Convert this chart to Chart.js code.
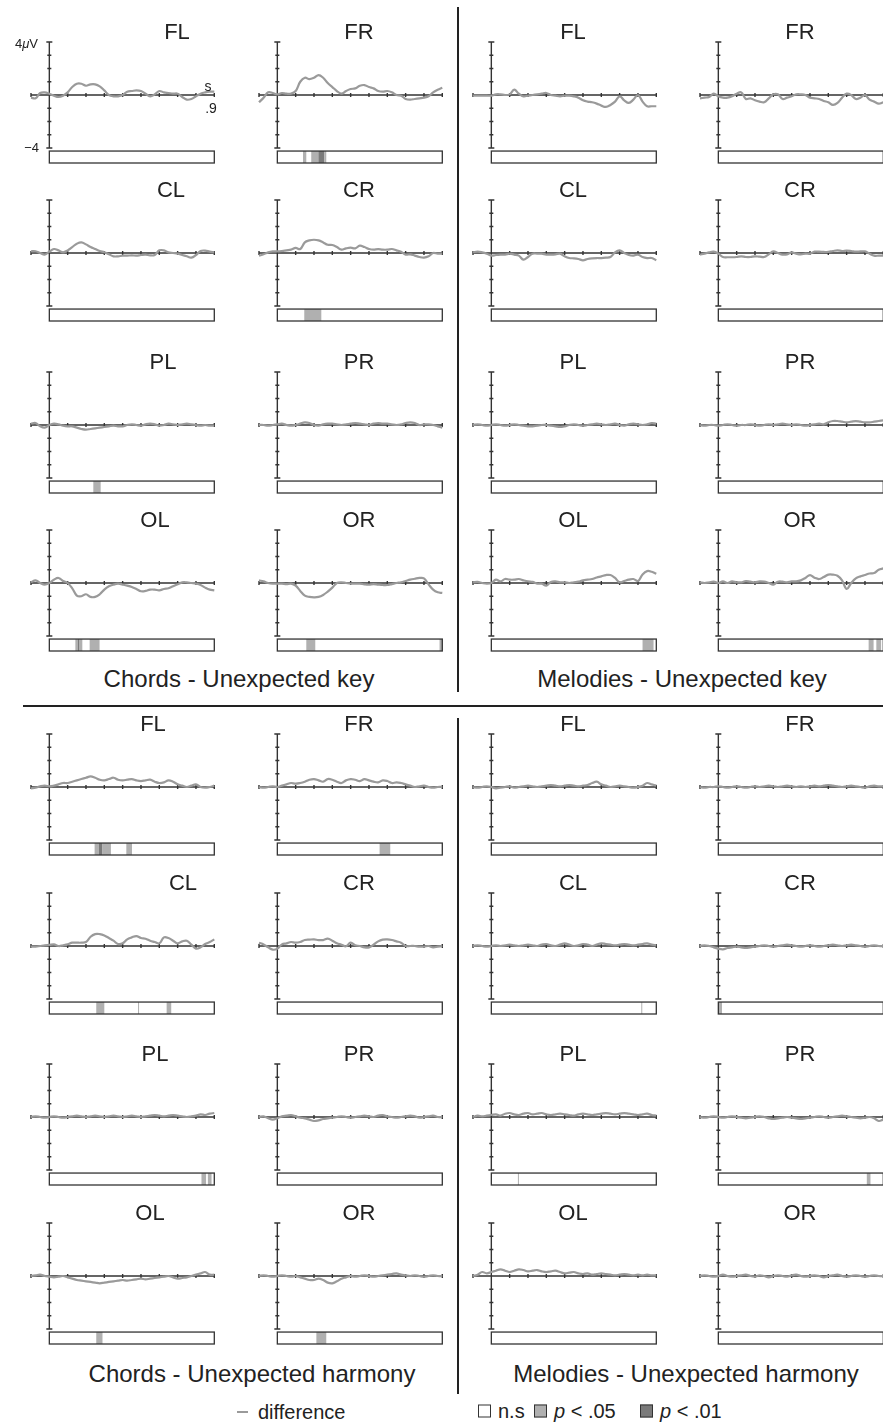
<!DOCTYPE html>
<html>
<head>
<meta charset="utf-8">
<script src="https://cdn.jsdelivr.net/npm/chart.js@4.4.0/dist/chart.umd.min.js"></script>
<style>
html, body { margin: 0; padding: 0; background: #fff; }
body { width: 883px; height: 1427px; position: relative; overflow: hidden;
       font-family: "Liberation Sans", Arial, sans-serif; color: #222; }
canvas { position: absolute; }
.t { position: absolute; transform: translate(-50%, -50%); white-space: nowrap; line-height: 1; font-size: 22px; }
.l { position: absolute; transform: translateY(-50%); white-space: nowrap; line-height: 1; }
.sep { position: absolute; background: #222; }
.box { position: absolute; width: 11px; height: 11px; border: 1px solid #333; transform: translateY(-50%); }
</style>
</head>
<body>
<script>
// ---- data ----
const TIMES = [-0.1, -0.075, -0.05, -0.025, 0, 0.025, 0.05, 0.075, 0.1, 0.125, 0.15, 0.175, 0.2, 0.225,
  0.25, 0.275, 0.3, 0.325, 0.35, 0.375, 0.4, 0.425, 0.45, 0.475, 0.5, 0.525, 0.55, 0.575, 0.6, 0.625,
  0.65, 0.675, 0.7, 0.725, 0.75, 0.775, 0.8, 0.825, 0.85, 0.875, 0.9];
const X_TICKS = [-0.1, 0, 0.1, 0.2, 0.3, 0.4, 0.5, 0.6, 0.7, 0.8, 0.9];
const Y_TICKS = [-4, -3, -2, -1, 0, 1, 2, 3, 4];
const ELECTRODES = ['FL', 'FR', 'CL', 'CR', 'PL', 'PR', 'OL', 'OR'];
const CONDITIONS = ['Chords - Unexpected key', 'Melodies - Unexpected key',
  'Chords - Unexpected harmony', 'Melodies - Unexpected harmony'];

// Chords - unexpected key
const CK_FL = [-0.2,-0.25,0.15,0.2,0.1,-0.05,-0.15,-0.05,0.2,0.6,0.85,0.85,0.7,0.8,0.8,0.65,0.35,0.0,-0.1,-0.1,0.0,0.25,0.3,0.35,0.3,0.1,-0.1,0.05,0.3,0.2,0.15,0.1,0.1,-0.15,-0.35,-0.3,-0.1,0.1,0.2,0.25,0.25];
const CK_FR = [-0.55,-0.2,0.2,0.15,0.05,0.15,0.1,0.1,0.3,1.0,1.3,1.2,1.3,1.5,1.3,0.9,0.6,0.3,0.1,0.3,0.45,0.5,0.7,0.75,0.6,0.5,0.3,0.25,0.3,0.2,0.0,-0.05,-0.3,-0.35,-0.3,-0.25,-0.2,-0.1,0.2,0.4,0.55];
const CK_CL = [0.13,0.13,0.0,-0.12,0.1,0.3,0.2,0.05,0.2,0.45,0.7,0.8,0.65,0.45,0.3,0.15,0.05,-0.1,-0.25,-0.25,-0.2,-0.2,-0.18,-0.2,-0.15,-0.12,-0.18,-0.15,0.2,0.2,0.05,0.0,-0.05,-0.15,-0.25,-0.35,-0.15,0.15,0.18,0.1,0.05];
const CK_CR = [-0.2,-0.1,0.05,0.12,0.12,0.15,0.2,0.25,0.38,0.3,0.8,0.95,1.0,0.95,0.8,0.62,0.6,0.45,0.25,0.35,0.4,0.35,0.55,0.45,0.3,0.25,0.3,0.25,0.25,0.3,0.2,0.1,-0.12,-0.1,-0.2,-0.3,-0.35,-0.25,0.0,-0.05,-0.05];
const CK_PL = [0.1,0.15,-0.1,-0.2,0.0,0.1,0.05,-0.05,-0.1,-0.1,-0.2,-0.3,-0.35,-0.3,-0.25,-0.2,-0.15,-0.1,-0.05,-0.1,-0.1,0.0,0.05,0.0,-0.05,0.05,0.1,0.05,-0.05,0.0,0.1,0.05,0.0,0.05,0.1,0.05,0.0,-0.05,0.0,-0.05,-0.05];
const CK_PR = [0.0,0.0,-0.05,0.0,0.05,0.1,0.0,-0.05,0.0,0.1,0.2,0.15,0.0,-0.05,0.05,0.1,0.1,0.05,0.0,0.05,0.1,0.15,0.1,0.05,0.0,0.1,0.15,0.1,0.1,0.05,0.0,0.05,0.15,0.2,0.15,0.0,0.05,0.05,0.0,-0.1,-0.2];
const CK_OL = [0.05,0.2,0.0,-0.12,0.0,0.25,0.38,0.15,0.0,-0.4,-0.95,-1.0,-0.85,-1.05,-1.05,-0.85,-0.5,-0.25,-0.12,-0.05,-0.12,-0.2,-0.3,-0.45,-0.62,-0.6,-0.5,-0.5,-0.55,-0.45,-0.4,-0.25,-0.1,0.05,0.05,0.0,-0.05,-0.15,-0.35,-0.5,-0.55];
const CK_OR = [0.2,0.12,0.0,-0.05,-0.05,-0.05,-0.08,-0.05,-0.2,-0.6,-0.95,-1.05,-1.08,-1.05,-0.9,-0.65,-0.35,0.0,0.05,0.0,-0.05,-0.05,-0.05,-0.1,-0.12,-0.08,-0.12,-0.15,-0.15,-0.08,0.0,0.05,0.15,0.25,0.32,0.38,0.35,-0.1,-0.5,-0.7,-0.75];
// Melodies - unexpected key
const MK_FL = [-0.05,-0.05,-0.05,-0.05,-0.05,0.05,0.05,0.0,0.05,0.4,0.1,-0.1,-0.05,0.0,0.05,0.1,0.15,0.0,-0.05,-0.1,-0.05,-0.05,-0.1,-0.2,-0.4,-0.5,-0.55,-0.65,-0.8,-0.9,-0.75,-0.5,-0.1,-0.4,-0.6,-0.35,0.0,-0.5,-0.85,-0.85,-0.85];
const MK_FR = [-0.25,-0.2,-0.15,0.1,-0.1,-0.2,-0.2,-0.1,0.1,0.2,-0.3,-0.25,-0.4,-0.5,-0.55,-0.25,0.05,0.05,-0.3,-0.2,-0.1,0.05,0.05,0.0,-0.2,-0.25,-0.3,-0.45,-0.55,-0.75,-0.6,-0.2,0.1,0.0,-0.3,-0.2,0.0,-0.35,-0.5,-0.65,-0.55];
const MK_CL = [0.05,0.1,0.05,-0.05,-0.2,-0.15,-0.12,-0.12,-0.05,-0.12,-0.2,-0.5,-0.3,-0.05,-0.05,-0.05,-0.12,-0.12,-0.1,-0.05,-0.25,-0.38,-0.4,-0.45,-0.55,-0.45,-0.4,-0.38,-0.38,-0.35,-0.3,0.05,0.2,0.0,-0.15,-0.2,-0.12,-0.3,-0.38,-0.38,-0.55];
const MK_CR = [-0.12,-0.05,0.05,0.1,-0.05,-0.3,-0.32,-0.32,-0.3,-0.25,-0.3,-0.3,-0.25,-0.28,-0.3,-0.1,0.12,0.0,-0.12,-0.1,0.05,-0.05,-0.1,-0.05,-0.05,0.1,0.1,0.08,0.08,0.15,0.2,0.15,0.18,0.15,0.1,0.12,0.12,-0.05,-0.2,-0.2,-0.2];
const MK_PL = [0.0,0.05,0.0,-0.05,0.0,0.05,0.0,-0.05,0.0,0.05,0.0,-0.05,-0.1,-0.1,-0.05,0.0,0.0,-0.05,-0.1,-0.15,-0.1,0.0,0.05,0.0,-0.05,0.0,0.05,0.1,0.05,0.0,0.05,0.1,0.0,-0.05,0.05,0.1,0.05,0.0,0.05,0.15,0.1];
const MK_PR = [0.0,-0.05,0.0,0.0,-0.05,0.0,0.05,0.0,-0.05,0.0,0.0,0.05,0.0,-0.05,0.0,0.05,0.0,0.05,0.1,0.05,0.0,0.05,0.0,-0.05,0.0,0.05,0.1,0.05,0.2,0.3,0.3,0.25,0.2,0.25,0.3,0.25,0.2,0.2,0.25,0.3,0.35];
const MK_OL = [0.05,0.08,0.0,-0.05,0.0,0.25,0.12,0.3,0.25,0.25,0.3,0.2,0.12,0.08,-0.05,-0.05,-0.2,0.08,0.12,0.05,0.05,0.0,0.05,0.1,0.2,0.25,0.3,0.42,0.5,0.6,0.6,0.38,0.05,0.15,0.25,0.3,0.15,0.65,0.9,0.85,0.7];
const MK_OR = [0.05,0.0,0.05,0.1,0.0,0.12,0.0,0.12,0.05,0.05,0.15,0.1,0.05,0.12,0.1,0.0,-0.12,0.1,0.1,0.05,0.12,0.12,0.2,0.38,0.6,0.4,0.3,0.45,0.63,0.63,0.55,0.2,-0.45,0.0,0.35,0.5,0.6,0.72,0.75,1.0,1.1];
// Chords - unexpected harmony
const CH_FL = [-0.1,-0.05,0.05,0.1,0.05,0.1,0.2,0.3,0.3,0.4,0.5,0.6,0.7,0.8,0.7,0.55,0.5,0.6,0.7,0.55,0.5,0.55,0.6,0.5,0.45,0.5,0.55,0.4,0.3,0.35,0.5,0.4,0.2,0.1,0.0,0.1,0.2,0.0,-0.05,0.0,0.1];
const CH_FR = [0.0,-0.05,0.0,0.05,0.0,0.1,0.2,0.3,0.25,0.3,0.4,0.55,0.6,0.5,0.4,0.6,0.55,0.4,0.3,0.5,0.6,0.55,0.45,0.6,0.5,0.4,0.35,0.5,0.45,0.3,0.35,0.3,0.2,0.1,0.0,0.05,0.1,0.0,-0.05,0.0,0.0];
const CH_CL = [-0.05,-0.05,0.0,0.05,0.08,0.12,0.0,0.05,0.12,0.25,0.25,0.25,0.3,0.7,0.9,0.9,0.8,0.6,0.4,0.15,0.2,0.5,0.65,0.75,0.6,0.55,0.4,0.3,0.2,0.65,0.6,0.4,0.2,0.35,0.4,0.1,-0.2,-0.1,0.15,0.3,0.5];
const CH_CR = [0.25,0.12,-0.1,-0.28,-0.2,0.12,0.2,0.3,0.25,0.3,0.45,0.48,0.5,0.45,0.45,0.55,0.4,0.2,0.1,-0.02,0.25,0.05,0.0,-0.1,-0.1,0.1,0.35,0.48,0.5,0.45,0.35,0.25,0.0,0.0,0.0,-0.05,-0.05,0.0,-0.1,-0.05,0.0];
const CH_PL = [0.0,0.05,0.0,-0.05,0.0,0.05,0.0,-0.05,0.0,0.05,0.1,0.05,0.0,0.05,0.1,0.05,0.0,0.05,0.1,0.05,0.0,0.05,0.1,0.05,0.0,0.05,0.1,0.15,0.1,0.05,0.1,0.15,0.1,0.05,0.0,0.05,0.1,0.2,0.15,0.25,0.3];
const CH_PR = [0.0,0.05,-0.1,-0.2,-0.1,0.05,0.1,0.15,0.05,-0.05,-0.1,-0.2,-0.3,-0.25,-0.15,-0.1,-0.05,0.0,0.05,0.0,-0.05,0.0,0.05,0.1,0.05,0.0,0.1,0.15,0.05,0.0,-0.05,0.0,0.05,0.1,0.05,-0.05,0.0,0.05,0.1,0.0,0.0];
const CH_OL = [0.0,0.05,0.1,0.0,-0.05,-0.1,-0.05,0.0,-0.1,-0.2,-0.3,-0.35,-0.4,-0.45,-0.5,-0.55,-0.5,-0.45,-0.4,-0.35,-0.3,-0.35,-0.3,-0.25,-0.2,-0.25,-0.2,-0.15,-0.1,-0.05,0.0,-0.1,-0.2,-0.15,-0.1,0.0,0.1,0.2,0.3,0.1,0.1];
const CH_OR = [0.0,0.05,0.0,-0.05,0.0,0.05,0.0,-0.05,0.0,-0.1,-0.2,-0.3,-0.3,-0.2,-0.3,-0.5,-0.55,-0.4,-0.2,-0.1,0.0,-0.05,0.0,0.05,0.0,-0.05,0.0,0.05,0.1,0.15,0.2,0.1,0.05,0.0,0.05,0.0,-0.05,0.0,0.05,0.0,0.0];
// Melodies - unexpected harmony
const MH_FL = [0.0,-0.05,0.0,0.05,0.0,-0.1,-0.05,0.0,0.05,-0.05,0.0,0.05,0.1,0.05,0.0,0.05,0.1,0.15,0.1,0.05,0.1,0.15,0.1,0.05,0.1,0.15,0.3,0.4,0.2,0.1,0.0,0.05,0.1,0.05,0.0,-0.05,0.0,0.1,0.3,0.2,0.1];
const MH_FR = [0.0,-0.05,0.0,0.0,0.05,0.0,-0.05,0.0,0.05,0.0,-0.05,0.0,0.05,0.0,0.05,0.1,0.05,0.0,0.05,0.1,0.05,0.0,0.05,0.0,0.05,0.1,0.05,0.1,0.15,0.1,0.05,0.0,0.05,0.1,0.05,0.0,-0.05,0.05,0.1,0.05,0.05];
const MH_CL = [0.0,0.05,0.0,-0.05,0.0,0.05,0.0,0.05,0.1,0.05,0.0,0.05,0.1,0.05,0.0,0.1,0.15,0.05,0.0,0.1,0.2,0.1,0.0,0.05,0.15,0.1,0.0,0.1,0.2,0.15,0.1,0.05,0.1,0.15,0.1,0.05,0.1,0.15,0.2,0.1,0.05];
const MH_CR = [0.0,0.05,0.0,-0.1,-0.2,-0.25,-0.15,-0.1,-0.05,-0.1,-0.15,-0.1,-0.05,0.0,0.05,0.0,-0.05,0.0,0.05,0.1,0.05,0.0,-0.05,0.0,0.05,0.0,-0.05,0.0,0.05,0.1,0.05,0.0,0.05,0.1,0.05,0.0,-0.05,0.0,0.05,0.0,0.0];
const MH_PL = [0.0,0.1,0.05,0.1,0.15,0.2,0.1,0.25,0.3,0.2,0.15,0.25,0.3,0.2,0.25,0.3,0.2,0.15,0.2,0.25,0.2,0.15,0.1,0.2,0.25,0.2,0.15,0.2,0.25,0.3,0.25,0.2,0.25,0.3,0.25,0.2,0.15,0.2,0.25,0.15,0.1];
const MH_PR = [0.0,-0.05,0.0,0.05,0.0,-0.05,0.0,0.05,0.0,-0.05,-0.1,-0.05,0.0,0.05,0.0,-0.1,-0.15,-0.1,-0.05,0.0,-0.05,-0.1,-0.15,-0.1,-0.05,0.0,0.05,0.0,-0.05,0.0,0.05,0.1,0.05,0.0,-0.05,-0.1,-0.05,0.0,-0.1,-0.3,-0.2];
const MH_OL = [0.0,0.1,0.3,0.2,0.3,0.4,0.5,0.4,0.3,0.4,0.5,0.45,0.35,0.4,0.45,0.35,0.3,0.35,0.4,0.3,0.2,0.25,0.3,0.2,0.15,0.2,0.1,0.15,0.2,0.15,0.1,0.05,0.1,0.15,0.1,0.05,0.1,0.05,0.1,0.05,0.05];
const MH_OR = [0.0,0.05,0.0,-0.05,0.0,0.1,0.0,-0.05,0.0,0.05,0.1,0.0,-0.05,0.05,0.0,-0.1,0.0,0.05,0.0,-0.05,0.05,0.1,0.0,-0.05,0.0,0.05,0.0,-0.1,0.0,0.05,0.1,0.0,-0.05,0.0,0.05,0.0,-0.05,0.0,0.05,0.0,0.0];

// significant windows: [start s, end s, level] level 1 = p < .05, 2 = p < .01
const SIG = {
  CK_FR: [[0.14, 0.158, 1], [0.185, 0.224, 1], [0.224, 0.256, 2], [0.256, 0.267, 1]],
  CK_CR: [[0.147, 0.24, 1]],
  CK_PL: [[0.24, 0.28, 1]],
  CK_OL: [[0.142, 0.155, 1], [0.155, 0.165, 2], [0.165, 0.18, 1], [0.22, 0.274, 1]],
  CK_OR: [[0.158, 0.207, 1], [0.885, 0.9, 1]],
  MK_OL: [[0.825, 0.885, 1]],
  MK_OR: [[0.82, 0.847, 1], [0.862, 0.888, 1]],
  CH_FL: [[0.247, 0.27, 1], [0.27, 0.29, 2], [0.29, 0.336, 1], [0.42, 0.451, 1]],
  CH_FR: [[0.558, 0.616, 1]],
  CH_CL: [[0.256, 0.3, 1], [0.484, 0.489, 1], [0.64, 0.665, 1]],
  CH_PL: [[0.83, 0.855, 1], [0.865, 0.885, 1]],
  CH_OL: [[0.256, 0.29, 1]],
  CH_OR: [[0.213, 0.267, 1]],
  MH_CL: [[0.818, 0.823, 1]],
  MH_CR: [[0.0, 0.02, 1]],
  MH_PL: [[0.145, 0.15, 1]],
  MH_PR: [[0.81, 0.83, 1]]
};

const SERIES = {
  CK_FL, CK_FR, CK_CL, CK_CR, CK_PL, CK_PR, CK_OL, CK_OR,
  MK_FL, MK_FR, MK_CL, MK_CR, MK_PL, MK_PR, MK_OL, MK_OR,
  CH_FL, CH_FR, CH_CL, CH_CR, CH_PL, CH_PR, CH_OL, CH_OR,
  MH_FL, MH_FR, MH_CL, MH_CR, MH_PL, MH_PR, MH_OL, MH_OR
};
const PREFIX = ['CK', 'MK', 'CH', 'MH'];

// ---- layout / style ----
const COL_AXIS = [49, 277, 491, 718];           // pixel x of t = 0
const ROW_TOP = [42, 200, 372, 530, 734, 893, 1064, 1223]; // pixel y of +4 uV
const COL1_TITLE_X = [177, 171, 163, 155, 153, 183, 155, 150];
const PX_PER_S = 183.3, PX_PER_UV = 13.25, PLOT_H = 121;
const BAR_TOP = -4.23;
const TRACE = '#9a9a9a', AXIS = '#333', LIGHT = '#b0b0b0', DARK = '#7a7a7a';

function addText(html, x, y, cls, extra) {
  const d = document.createElement('div');
  d.className = cls; d.innerHTML = html;
  d.style.left = x + 'px'; d.style.top = y + 'px';
  if (extra) Object.assign(d.style, extra);
  document.body.appendChild(d);
  return d;
}
function addRect(x, y, w, h) {
  const d = document.createElement('div');
  d.className = 'sep';
  Object.assign(d.style, { left: x + 'px', top: y + 'px', width: w + 'px', height: h + 'px' });
  document.body.appendChild(d);
}

function framePlugin(sig) {
  return {
    id: 'erpFrame',
    beforeDatasetsDraw(chart) {
      const { ctx, scales: { x, y } } = chart;
      const x0 = x.getPixelForValue(0), y0 = y.getPixelForValue(0);
      ctx.save();
      ctx.strokeStyle = AXIS; ctx.lineWidth = 1.4; ctx.lineCap = 'butt';
      ctx.beginPath();
      ctx.moveTo(x0, y.getPixelForValue(Y_TICKS[Y_TICKS.length - 1]));
      ctx.lineTo(x0, y.getPixelForValue(Y_TICKS[0]));
      ctx.moveTo(x.getPixelForValue(X_TICKS[0]), y0);
      ctx.lineTo(x.getPixelForValue(X_TICKS[X_TICKS.length - 1]), y0);
      Y_TICKS.forEach(v => {
        const py = y.getPixelForValue(v), l = Math.abs(v) === 4 ? 3 : 2;
        ctx.moveTo(x0 - l, py); ctx.lineTo(x0 + l, py);
      });
      X_TICKS.forEach(v => {
        if (v === 0) return;
        const px = x.getPixelForValue(v);
        ctx.moveTo(px, y0 - 2); ctx.lineTo(px, y0 + 2);
      });
      ctx.stroke();
      // significance strip under the trace
      const bx0 = x.getPixelForValue(0), bx1 = x.getPixelForValue(X_TICKS[X_TICKS.length - 1]);
      const by0 = y.getPixelForValue(BAR_TOP), by1 = y.getPixelForValue(y.min);
      (sig || []).forEach(([a, b, lvl]) => {
        const pa = x.getPixelForValue(a), pb = x.getPixelForValue(b);
        ctx.fillStyle = lvl === 2 ? DARK : LIGHT;
        ctx.fillRect(pa, by0, Math.max(pb - pa, 1), by1 - by0);
      });
      ctx.lineWidth = 1.3;
      ctx.strokeRect(bx0, by0, bx1 - bx0, by1 - by0);
      ctx.restore();
    }
  };
}

const PAD = 4;
const yMin = 4 - PLOT_H / PX_PER_UV;

CONDITIONS.forEach((cond, c) => {
  const half = c >> 1, side = c & 1;
  ELECTRODES.forEach((el, e) => {
    const row = half * 4 + (e >> 1);
    const col = side * 2 + (e & 1);
    const key = PREFIX[c] + '_' + el;
    const vals = SERIES[key];
    const axisX = COL_AXIS[col], top = ROW_TOP[row];
    const left = axisX - 0.1 * PX_PER_S;

    const cv = document.createElement('canvas');
    const W = Math.ceil(PX_PER_S + 2 * PAD + 1), H = PLOT_H + 2 * PAD + 1;
    cv.width = W; cv.height = H;
    cv.style.left = (left - PAD) + 'px'; cv.style.top = (top - PAD) + 'px';
    cv.style.width = W + 'px'; cv.style.height = H + 'px';
    document.body.appendChild(cv);

    new Chart(cv, {
      type: 'line',
      data: {
        datasets: [{
          data: vals.map((v, i) => ({ x: TIMES[i], y: v })),
          borderColor: TRACE, borderWidth: 2.2, pointRadius: 0,
          tension: 0.4, fill: false, clip: 8
        }]
      },
      options: {
        responsive: false, animation: false, devicePixelRatio: 1, events: [],
        layout: { padding: { left: PAD, top: PAD, right: W - PAD - PX_PER_S, bottom: H - PAD - PLOT_H } },
        scales: {
          x: { type: 'linear', min: X_TICKS[0], max: X_TICKS[X_TICKS.length - 1], display: false },
          y: { type: 'linear', min: yMin, max: Y_TICKS[Y_TICKS.length - 1], display: false }
        },
        plugins: { legend: { display: false }, tooltip: { enabled: false } }
      },
      plugins: [framePlugin(SIG[key])]
    });

    const tx = col === 0 ? COL1_TITLE_X[row] : axisX + 82;
    addText(el, tx, top - 10, 't');
  });
});

// axis labels on the first panel
addText('4<i>μ</i>V', 38, 43, 'l', { fontSize: '13px', transform: 'translate(-100%,-50%)' });
addText('\u22124', 39, 147, 'l', { fontSize: '13px', transform: 'translate(-100%,-50%)' });
addText('s', 208, 86, 't', { fontSize: '14px' });
addText('.9', 211, 108, 't', { fontSize: '14px' });

// condition labels
addText(CONDITIONS[0], 239, 679, 't', { fontSize: '24px' });
addText(CONDITIONS[1], 682, 679, 't', { fontSize: '24px' });
addText(CONDITIONS[2], 252, 1374, 't', { fontSize: '24px' });
addText(CONDITIONS[3], 686, 1374, 't', { fontSize: '24px' });

// separators
addRect(457, 7, 2, 685);
addRect(457, 718, 2, 676);
addRect(23, 705, 860, 2);

// legend
const lg = document.createElement('div');
Object.assign(lg.style, { position: 'absolute', left: '237px', top: '1411px', width: '11px', height: '2px', background: TRACE });
document.body.appendChild(lg);
addText('difference', 258, 1412, 'l', { fontSize: '20px' });
const boxes = [[478, '#fff', 'n.s'], [534, LIGHT, '<i>p</i> &lt; .05'], [640, DARK, '<i>p</i> &lt; .01']];
boxes.forEach(([x, fill, txt]) => {
  const b = document.createElement('div');
  b.className = 'box';
  Object.assign(b.style, { left: x + 'px', top: '1411px', background: fill });
  document.body.appendChild(b);
  addText(txt, x + 20, 1411, 'l', { fontSize: '20px' });
});
</script>
</body>
</html>
